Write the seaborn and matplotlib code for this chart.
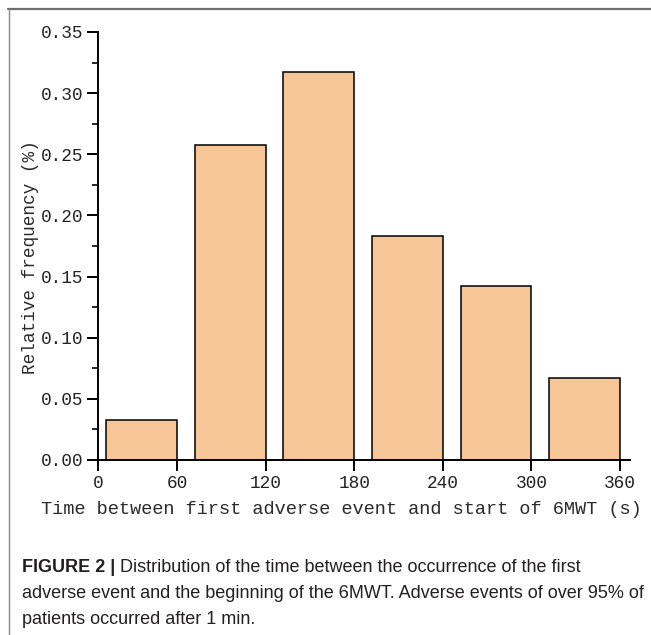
import numpy as np
import pandas as pd
import matplotlib
matplotlib.use("Agg")
import matplotlib.pyplot as plt
from matplotlib.lines import Line2D
from matplotlib.ticker import MultipleLocator, FormatStrFormatter
import seaborn as sns

# Upper edge of each one-minute bin (s) and relative frequency of first adverse event
bin_upper_edges = [60, 120, 180, 240, 300, 360]
relative_freq = [0.033, 0.258, 0.317, 0.183, 0.142, 0.067]
x_tick_values = [0, 60, 120, 180, 240, 300, 360]
x_tick_labels = ["0", "60", "120", "180", "240", "300", "360"]

x_label = "Time between first adverse event and start of 6MWT (s)"
y_label = "Relative frequency (%)"
caption_bold = "FIGURE 2 |"
caption_lines = [
    "Distribution of the time between the occurrence of the first",
    "adverse event and the beginning of the 6MWT. Adverse events of over 95% of",
    "patients occurred after 1 min.",
]

sns.set_style("ticks")
mono = ["Liberation Mono", "DejaVu Sans Mono"]
sans = ["Liberation Sans", "DejaVu Sans"]
plt.rcParams["font.family"] = mono

W, H = 651, 635
fig = plt.figure(figsize=(W / 100, H / 100), dpi=100)
ax = fig.add_axes([97.7 / W, 1 - 460 / H, (630 - 97.7) / W, (460 - 32) / H])

bar_width = 48
df = pd.DataFrame({
    "center": np.array(bin_upper_edges) - bar_width / 2,
    "freq": relative_freq,
})
sns.barplot(data=df, x="center", y="freq", native_scale=True, width=0.8,
            color="#F7C696", saturation=1, edgecolor="black", linewidth=1.1,
            ax=ax)

# axis begins at the origin tick, just left of the first bar
x_start = 6.1
ax.set_xlim(x_start, 366.8)
ax.set_ylim(0, 0.35)
ticks = [x_start] + x_tick_values[1:]
ax.set_xticks(ticks)
ax.set_xticklabels(x_tick_labels)

ax.yaxis.set_major_locator(MultipleLocator(0.05))
ax.yaxis.set_minor_locator(MultipleLocator(0.025))
ax.yaxis.set_major_formatter(FormatStrFormatter("%.2f"))

for s in ["top", "right"]:
    ax.spines[s].set_visible(False)
for s in ["left", "bottom"]:
    ax.spines[s].set_linewidth(1.4)
    ax.spines[s].set_color("black")

ax.tick_params(axis="both", which="major", direction="out", length=8,
               width=1.4, color="black", labelsize=12.8, labelcolor="#222222")
ax.tick_params(axis="y", which="major", pad=2)
ax.tick_params(axis="x", which="major", pad=2.5)
ax.tick_params(axis="y", which="minor", direction="out", length=4,
               width=1.2, color="black")
for lab in ax.get_xticklabels() + ax.get_yticklabels():
    lab.set_family(mono)

ax.set_xlabel(x_label, fontsize=13.4, family=mono, color="#2a2a2a")
ax.set_ylabel(y_label, fontsize=12.8, family=mono, color="#2a2a2a")
ax.xaxis.set_label_coords((341 - 97.7) / (630 - 97.7), -(510 - 460) / (460 - 32))
ax.yaxis.set_label_coords(-(97.7 - 31) / (630 - 97.7), (460 - 257) / (460 - 32))
ax.xaxis.label.set_va("center")
ax.yaxis.label.set_va("center")

# caption below the chart
cap_kw = dict(fontsize=13, family=sans, color="#231F20", va="center", ha="left")
x0 = 22 / W
t_bold = fig.text(x0, 1 - 568 / H, caption_bold, weight="bold", **cap_kw)
fig.canvas.draw()
bb = t_bold.get_window_extent()
fig.text((bb.x1 + 5) / W, 1 - 568 / H, caption_lines[0], **cap_kw)
fig.text(x0, 1 - 594 / H, caption_lines[1], **cap_kw)
fig.text(x0, 1 - 620 / H, caption_lines[2], **cap_kw)

# frame rules at the top and left of the figure
fig.add_artist(Line2D([8 / W, 1], [1 - 8.5 / H, 1 - 8.5 / H],
                      transform=fig.transFigure, color="#6e6e6e", linewidth=1.6))
fig.add_artist(Line2D([9 / W, 9 / W], [0, 1 - 8.5 / H],
                      transform=fig.transFigure, color="#8a8a8a", linewidth=1.0))

fig.savefig("out.png", dpi=100)
